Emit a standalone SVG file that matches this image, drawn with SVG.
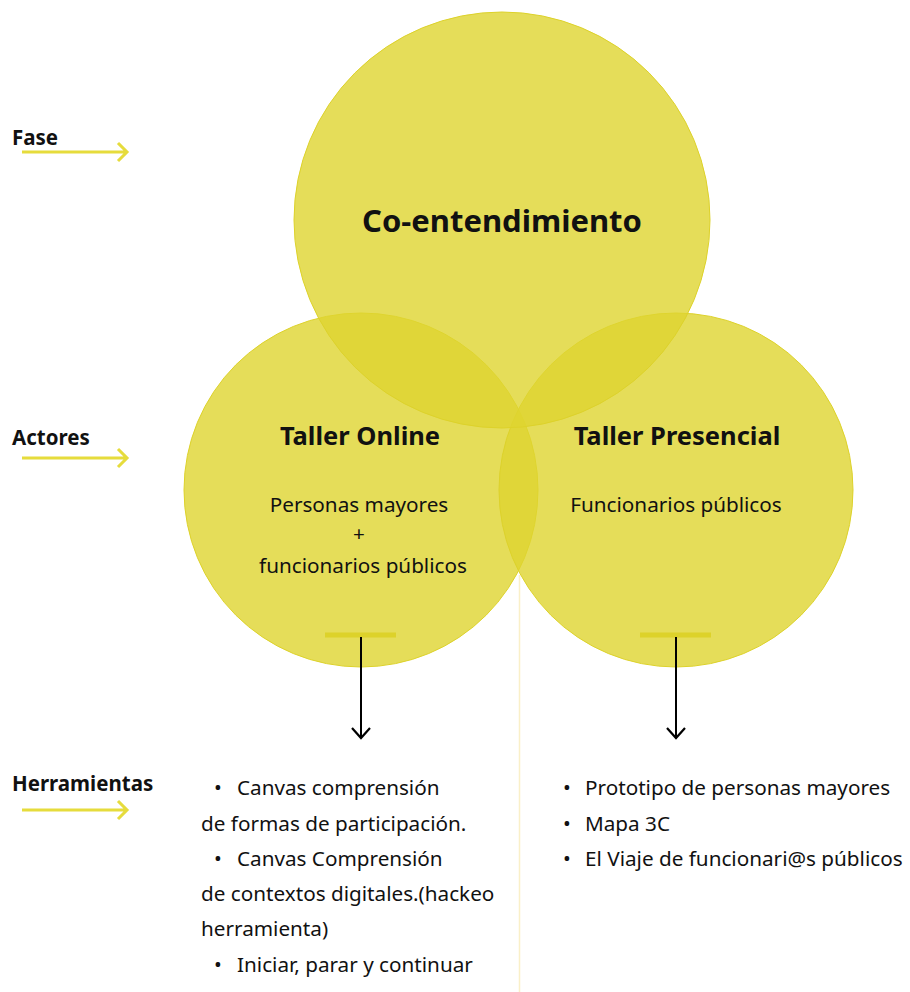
<svg xmlns="http://www.w3.org/2000/svg" width="910" height="992" viewBox="0 0 910 992">
<defs>
<style>
.c{fill:#dfd52f;fill-opacity:0.8;stroke:#ddd22a;stroke-width:1}
.t{font-family:"Noto Sans","Liberation Sans",sans-serif;fill:#111}
.b{font-weight:bold}
.lbl{font-family:"Noto Sans","Liberation Sans",sans-serif;font-weight:bold;font-size:20.5px;fill:#111}
.ya{stroke:#e6dc3c;stroke-width:3;fill:none}
.bar{stroke:#ddd22a;stroke-width:5}
.arr{stroke:#000;stroke-width:2;fill:none}
.txt{font-size:20.7px}
</style>
<marker id="ah" viewBox="0 0 20 20" refX="18" refY="10" markerWidth="20" markerHeight="20" markerUnits="userSpaceOnUse" orient="auto">
<path d="M8 1 L18 10 L8 19" fill="none" stroke="#000" stroke-width="2.2"/>
</marker>
</defs>
<rect width="910" height="992" fill="#fff"/>
<line x1="519.5" y1="575" x2="519.5" y2="992" stroke="#faf0c8" stroke-width="1.5"/>
<g id="left-labels">
<text class="lbl" x="12" y="145">Fase</text>
<path class="ya" d="M22 152 H127 M118 143 L127 152 L118 161"/>
<text class="lbl" x="12" y="445">Actores</text>
<path class="ya" d="M22 458 H127 M118 449 L127 458 L118 467"/>
<text class="lbl" x="12" y="791">Herramientas</text>
<path class="ya" d="M22 810 H127 M118 801 L127 810 L118 819"/>
</g>
<g id="taller-online">
<circle class="c" cx="361" cy="490" r="177"/>
</g>
<g id="taller-presencial">
<circle class="c" cx="676" cy="490" r="177"/>
</g>
<g id="co-entendimiento">
<circle class="c" cx="502" cy="220" r="208"/>
<text class="t b" x="502" y="232" font-size="31" text-anchor="middle">Co-entendimiento</text>
</g>
<g id="online-text">
<text class="t b" x="360" y="445" font-size="25.5" text-anchor="middle">Taller Online</text>
<text class="t txt" x="359" y="512" text-anchor="middle">Personas mayores</text>
<text class="t txt" x="359" y="541" text-anchor="middle">+</text>
<text class="t txt" x="363" y="573" text-anchor="middle">funcionarios públicos</text>
</g>
<g id="presencial-text">
<text class="t b" x="677" y="445" font-size="25.5" text-anchor="middle">Taller Presencial</text>
<text class="t txt" x="676" y="512" text-anchor="middle">Funcionarios públicos</text>
</g>
<g id="connectors">
<line class="bar" x1="325" y1="635" x2="396" y2="635"/>
<line class="bar" x1="640" y1="635" x2="711" y2="635"/>
<line class="arr" x1="361" y1="637" x2="361" y2="738" marker-end="url(#ah)"/>
<line class="arr" x1="676" y1="637" x2="676" y2="738" marker-end="url(#ah)"/>
</g>
<g id="herramientas-online" class="t txt">
<text x="214" y="795">•</text><text x="237" y="795">Canvas comprensión</text>
<text x="201" y="831">de formas de participación.</text>
<text x="214" y="866">•</text><text x="237" y="866">Canvas Comprensión</text>
<text x="201" y="901">de contextos digitales.(hackeo</text>
<text x="201" y="936">herramienta)</text>
<text x="214" y="972">•</text><text x="237" y="972">Iniciar, parar y continuar</text>
</g>
<g id="herramientas-presencial" class="t txt">
<text x="563" y="795">•</text><text x="585" y="795">Prototipo de personas mayores</text>
<text x="563" y="831">•</text><text x="585" y="831">Mapa 3C</text>
<text x="563" y="866">•</text><text x="585" y="866">El Viaje de funcionari@s públicos</text>
</g>
</svg>
